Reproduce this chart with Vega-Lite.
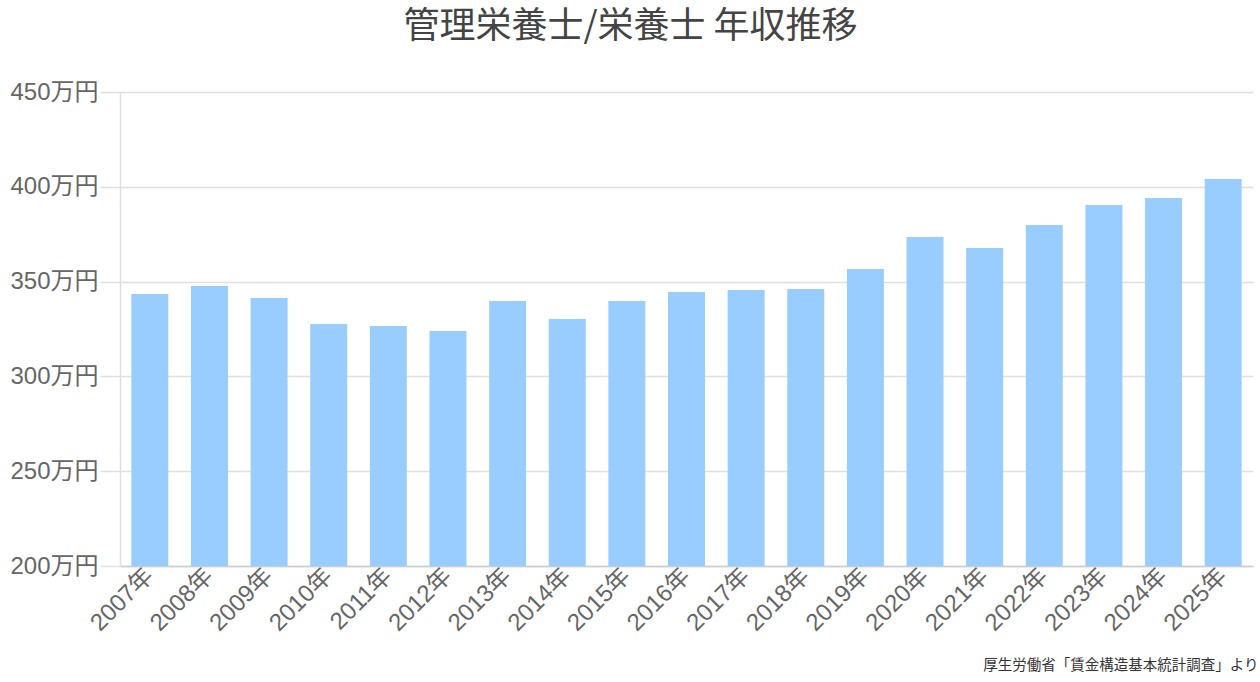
{
  "$schema": "https://vega.github.io/schema/vega-lite/v6.json",
  "width": 1133,
  "height": 474,
  "autosize": {"type": "none"},
  "padding": {"left": 120, "top": 92, "right": 7, "bottom": 116},
  "background": "#ffffff",
  "config": {
    "view": {"stroke": null},
    "font": "Noto Sans CJK JP"
  },
  "title": {
    "text": "管理栄養士/栄養士 年収推移",
    "fontSize": 36,
    "fontWeight": "normal",
    "color": "#444444",
    "anchor": "middle",
    "dx": -56,
    "offset": 34,
    "font": "Noto Sans CJK JP"
  },
  "data": {
    "values": [
      {"year": "2007年", "salary": 343.5},
      {"year": "2008年", "salary": 347.7},
      {"year": "2009年", "salary": 341.4},
      {"year": "2010年", "salary": 327.6},
      {"year": "2011年", "salary": 326.6},
      {"year": "2012年", "salary": 323.9},
      {"year": "2013年", "salary": 339.8},
      {"year": "2014年", "salary": 330.3},
      {"year": "2015年", "salary": 339.8},
      {"year": "2016年", "salary": 344.5},
      {"year": "2017年", "salary": 345.6},
      {"year": "2018年", "salary": 346.1},
      {"year": "2019年", "salary": 356.6},
      {"year": "2020年", "salary": 373.5},
      {"year": "2021年", "salary": 367.7},
      {"year": "2022年", "salary": 379.9},
      {"year": "2023年", "salary": 390.4},
      {"year": "2024年", "salary": 394.1},
      {"year": "2025年", "salary": 404.1}
    ]
  },
  "mark": {"type": "bar", "color": "#99ccff", "clip": true},
  "encoding": {
    "x": {
      "field": "year",
      "type": "nominal",
      "sort": null,
      "scale": {"paddingInner": 0.38, "paddingOuter": 0.19},
      "axis": {
        "title": "厚生労働省「賃金構造基本統計調査」より",
        "titleFontSize": 14.5,
        "titleFontWeight": "normal",
        "titleColor": "#333333",
        "titleAnchor": "end",
        "titleAlign": "right",
        "titleX": 1138,
        "titleY": 92,
        "labelAngle": -45,
        "labelAlign": "right",
        "labelBaseline": "middle",
        "labelFontSize": 24,
        "labelColor": "#666666",
        "labelFont": "Liberation Sans, Noto Sans CJK JP",
        "labelPadding": 6,
        "ticks": false,
        "domainColor": "#cccccc",
        "domainWidth": 1.5
      }
    },
    "y": {
      "field": "salary",
      "type": "quantitative",
      "scale": {"domain": [200, 450], "nice": false, "zero": false},
      "axis": {
        "title": null,
        "values": [200, 250, 300, 350, 400, 450],
        "labelExpr": "datum.value + '万円'",
        "labelFontSize": 24,
        "labelColor": "#666666",
        "labelFont": "Liberation Sans, Noto Sans CJK JP",
        "labelPadding": 2,
        "tickSize": 20,
        "tickColor": "#e0e0e0",
        "tickWidth": 1.5,
        "gridColor": "#e0e0e0",
        "gridWidth": 1.5,
        "domainColor": "#e0e0e0",
        "domainWidth": 1.5
      }
    }
  }
}
